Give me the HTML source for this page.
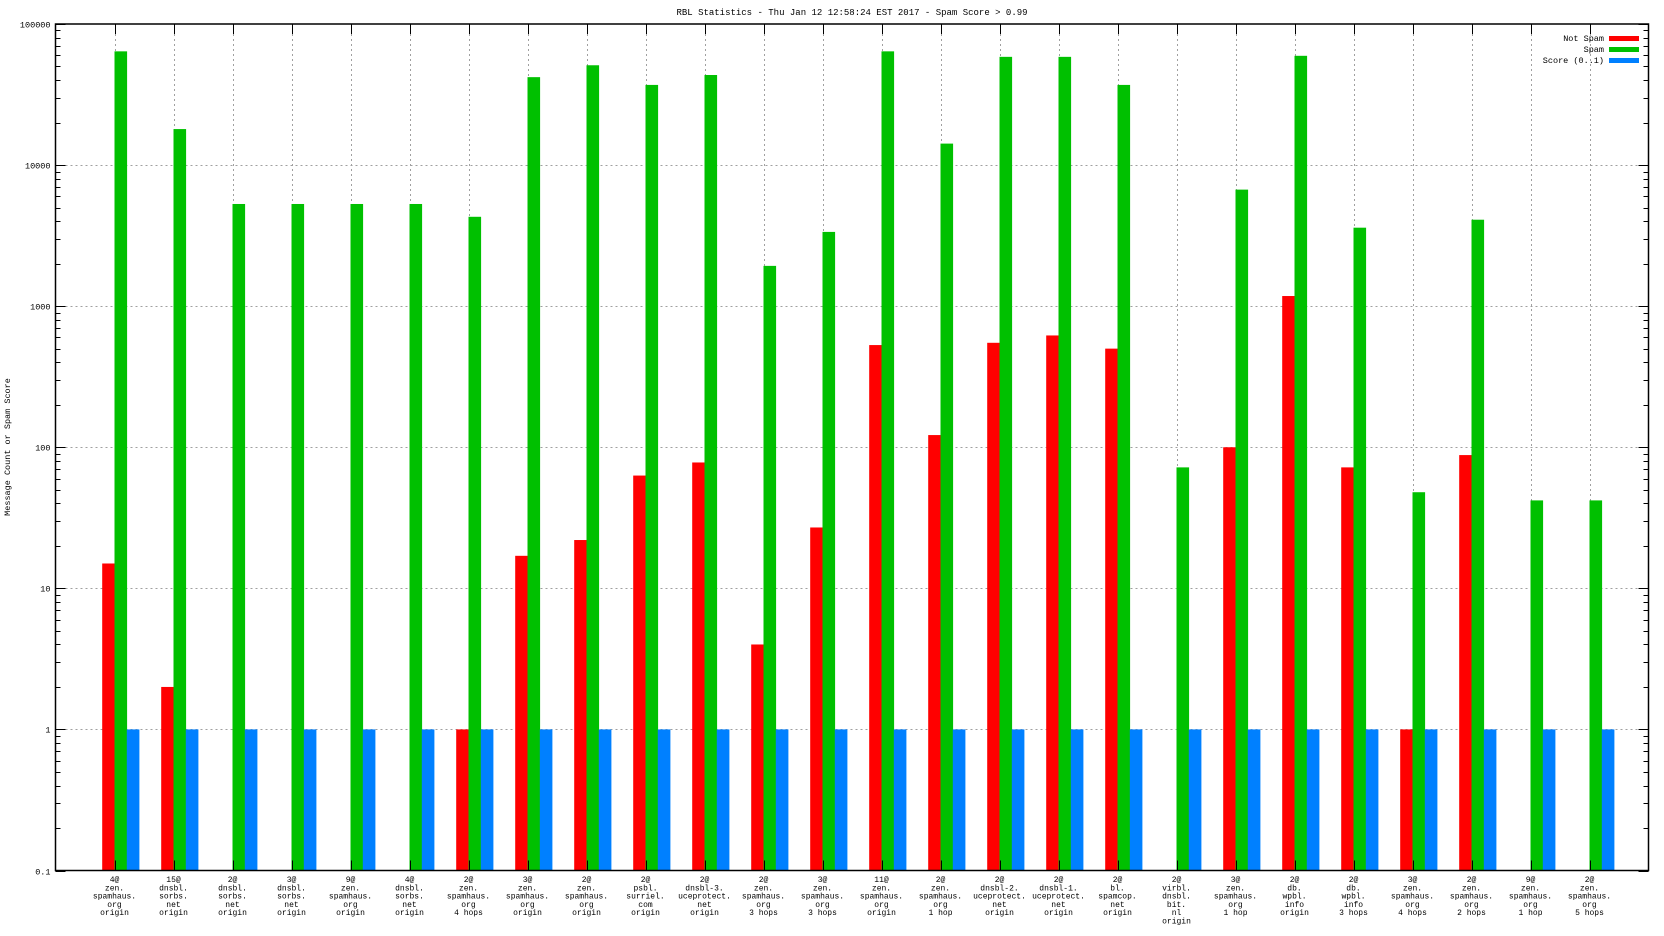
<!DOCTYPE html>
<html><head><meta charset="utf-8"><style>
html,body{margin:0;padding:0;background:#fff;}
svg{display:block;}
text{font-family:"Liberation Mono",monospace;fill:#000;}
</style></head><body>
<svg id="chart" width="1664" height="936" viewBox="0 0 1664 936" xmlns="http://www.w3.org/2000/svg">
<text x="852" y="15" text-anchor="middle" font-size="9">RBL Statistics - Thu Jan 12 12:58:24 EST 2017 - Spam Score &gt; 0.99</text>
<text x="0" y="0" transform="translate(10,447) rotate(-90)" text-anchor="middle" font-size="8.5">Message Count or Spam Score</text>
<g id="grid"></g><g id="bars"></g><g id="axes"></g><g id="labels"></g>
<g>
<text x="1604" y="41" text-anchor="end" font-size="8.5">Not Spam</text>
<rect x="1609" y="36" width="30" height="5" fill="#ff0000"/>
<text x="1604" y="52" text-anchor="end" font-size="8.5">Spam</text>
<rect x="1609" y="47" width="30" height="5" fill="#00c000"/>
<text x="1604" y="63" text-anchor="end" font-size="8.5">Score (0..1)</text>
<rect x="1609" y="58" width="30" height="5" fill="#0080ff"/>
</g>
</svg>
<script>
const categories = [
 ["4@","zen.","spamhaus.","org","origin"],["15@","dnsbl.","sorbs.","net","origin"],["2@","dnsbl.","sorbs.","net","origin"],
 ["3@","dnsbl.","sorbs.","net","origin"],["9@","zen.","spamhaus.","org","origin"],["4@","dnsbl.","sorbs.","net","origin"],
 ["2@","zen.","spamhaus.","org","4 hops"],["3@","zen.","spamhaus.","org","origin"],["2@","zen.","spamhaus.","org","origin"],
 ["2@","psbl.","surriel.","com","origin"],["2@","dnsbl-3.","uceprotect.","net","origin"],["2@","zen.","spamhaus.","org","3 hops"],
 ["3@","zen.","spamhaus.","org","3 hops"],["11@","zen.","spamhaus.","org","origin"],["2@","zen.","spamhaus.","org","1 hop"],
 ["2@","dnsbl-2.","uceprotect.","net","origin"],["2@","dnsbl-1.","uceprotect.","net","origin"],["2@","bl.","spamcop.","net","origin"],
 ["2@","virbl.","dnsbl.","bit.","nl","origin"],["3@","zen.","spamhaus.","org","1 hop"],["2@","db.","wpbl.","info","origin"],
 ["2@","db.","wpbl.","info","3 hops"],["3@","zen.","spamhaus.","org","4 hops"],["2@","zen.","spamhaus.","org","2 hops"],
 ["9@","zen.","spamhaus.","org","1 hop"],["2@","zen.","spamhaus.","org","5 hops"]
];
const notSpam = [15,2,null,null,null,null,1,17,22,63,78,4,27,530,122,550,620,500,null,100,1180,72,1,88,null,null];
const spam = [64000,18000,5300,5300,5300,5300,4300,42000,51000,37000,43500,1930,3360,64000,14200,58500,58500,37000,72,6700,59500,3600,48,4100,42,42];
const score = [1,1,1,1,1,1,1,1,1,1,1,1,1,1,1,1,1,1,1,1,1,1,1,1,1,1];
const yTicks = ["0.1","1","10","100","1000","10000","100000"];

const NS="http://www.w3.org/2000/svg";
const L=55.5,R=1648.5,T=24,B=870.5,slot=(R-L)/(categories.length+1),bw=12.3;
const yMin=-1,yMax=5;
function y(v){return B-(Math.log10(v)-yMin)/(yMax-yMin)*(B-T);}
function x(i){return L+(i+1)*slot;}
function mk(tag,attrs,parent){const e=document.createElementNS(NS,tag);for(const k in attrs)e.setAttribute(k,attrs[k]);parent.appendChild(e);return e;}
const grid=document.getElementById('grid'),bars=document.getElementById('bars'),axes=document.getElementById('axes'),labels=document.getElementById('labels');

yTicks.forEach((t,i)=>{
 const v=parseFloat(t),yy=Math.round(y(v))+0.5;
 if(i>0&&i<yTicks.length-1){const g=mk('line',{x1:L,x2:R,y1:yy,y2:yy,stroke:'#a0a0a0','stroke-dasharray':'2,3'},grid);
 
 }
 const tx=mk('text',{x:L-5,y:yy+3,'text-anchor':'end','font-size':'8.5'},axes);tx.textContent=t;
 
 
 mk('line',{x1:L,x2:L+10,y1:yy,y2:yy,stroke:'#000'},axes);
 mk('line',{x1:R,x2:R-10,y1:yy,y2:yy,stroke:'#000'},axes);
 if(i<yTicks.length-1){for(let m=2;m<=9;m++){const my=Math.round(y(v*m))+0.5;
  mk('line',{x1:L,x2:L+5,y1:my,y2:my,stroke:'#000'},axes);
  mk('line',{x1:R,x2:R-5,y1:my,y2:my,stroke:'#000'},axes);}}
});
categories.forEach((c,i)=>{
 const cx=Math.round(x(i))+0.5;
 const g=mk('line',{x1:cx,x2:cx,y1:T,y2:B,stroke:'#a0a0a0','stroke-dasharray':'2,3'},grid);
 
 
 mk('line',{x1:cx,x2:cx,y1:T,y2:T+10,stroke:'#000'},axes);
 mk('line',{x1:cx,x2:cx,y1:B,y2:B-10,stroke:'#000'},axes);
 const series=[[notSpam,'#ff0000','bar-not-spam',-bw],[spam,'#00c000','bar-spam',0],[score,'#0080ff','bar-score',bw]];
 series.forEach(s=>{const v=s[0][i];if(v==null)return;
  const top=y(v);const r=mk('rect',{x:x(i)+s[3],y:top,width:bw+0.3,height:B-top,fill:s[1]},bars);
  
  });
 const t=mk('text',{x:x(i),y:882,'text-anchor':'middle','font-size':'8'},labels);
 
 
 c.forEach((ln,j)=>{const ts=mk('tspan',{x:x(i),dy:j?8.3:0},t);ts.textContent=ln;});
});
mk('rect',{x:L,y:T,width:R-L,height:B-T,fill:'none',stroke:'#000','stroke-width':1.5},axes);
</script>
</body></html>
